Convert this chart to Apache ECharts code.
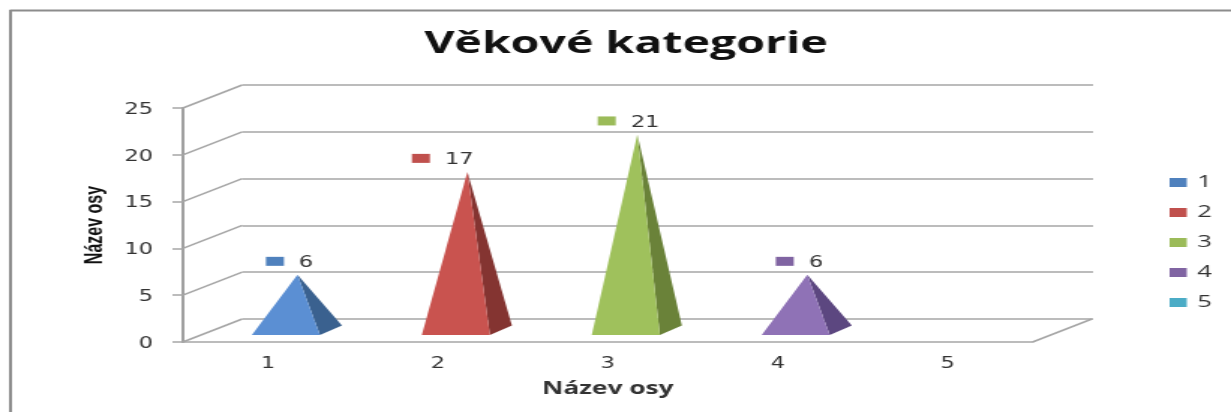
<!DOCTYPE html>
<html>
<head>
<meta charset="utf-8">
<script src="https://cdn.jsdelivr.net/npm/echarts@6/dist/echarts.min.js"></script>
<style>
html,body{margin:0;padding:0;background:#fff;overflow:hidden;width:1231px;height:412px}
#c{width:821px;height:412px;transform-origin:0 0;transform:scaleX(1.4994)}
</style>
</head>
<body>
<div id="c"></div>
<script>
const titleText = 'Věkové kategorie';
const axisNameX = 'Název osy';
const axisNameY = 'Název osy';
const categories = ['1','2','3','4','5'];
const seriesNames = ['1','2','3','4','5'];
const values = [6, 17, 21, 6, null];
const yTicks = [0, 5, 10, 15, 20, 25];
const legendColors = ['#4F81BD','#C0504D','#9BBB59','#8064A2','#4BACC6'];
const frontColors = ['#5B8FD3','#C9534F','#9FC15C','#8F72B6','#4BACC6'];
const sideColors = ['#3A618F','#843431','#6A8239','#5C4780','#2F7F95'];
const keyShift = [-1.3, -17.3, -6.7, -1.3, 0];

const FONT = '"Open Sans", sans-serif';
const NUMFONT = '"DejaVu Sans", sans-serif';
const GRID = '#a6a6a6';
const DEPTH_X = 39.5, DEPTH_Y = -23;
const shiftedText = {a: {fontFamily: NUMFONT, fontSize: 15, color: '#333', padding: [4,0,0,0]}};

function pyramid(i) {
  return function (params, api) {
    const cat = api.value(0), val = api.value(1);
    const c = api.coord([cat, 0])[0];
    const y0 = api.coord([cat, 0])[1];
    const yv = api.coord([cat, val])[1];
    const fl = [c - 10.7, y0 - 7], fr = [c + 34.7, y0 - 7];
    const rc = [c + 49.4, y0 - 16.5];
    const apex = [c + 19.7, yv - 11];
    const keyX = apex[0] - 19.7 + keyShift[i];
    return {
      type: 'group',
      children: [
        {type:'polygon', shape:{points:[fr, rc, apex]}, style:{fill:sideColors[i]}},
        {type:'polygon', shape:{points:[fl, fr, apex]}, style:{fill:frontColors[i]}},
        {type:'rect', shape:{x:keyX, y:yv-29, width:12, height:9}, style:{fill:legendColors[i]}},
        {type:'text', style:{text:String(val), x:keyX+22, y:yv-22.5, fontSize:15, fontFamily:NUMFONT, fill:'#333', align:'left', verticalAlign:'middle'}}
      ]
    };
  };
}

const pyramidSeries = seriesNames.map(function (name, i) {
  return {
    name: name,
    type: 'custom',
    xAxisIndex: 0, yAxisIndex: 0,
    z: 5,
    itemStyle: {color: legendColors[i]},
    encode: {x: 0, y: 1},
    renderItem: pyramid(i),
    data: values[i] == null ? [] : [[i, values[i]]]
  };
});

const wallSeries = {
  type: 'custom',
  xAxisIndex: 0, yAxisIndex: 0,
  z: 2, silent: true,
  encode: {x: 0, y: 1},
  renderItem: function (params, api) {
    const y = api.coord([0, api.value(1)])[1];
    const r = params.coordSys;
    const lines = [{type:'line', shape:{x1:r.x, y1:y, x2:r.x+DEPTH_X, y2:y+DEPTH_Y}, style:{stroke:GRID, lineWidth:1.5}}];
    if (api.value(1) === 0) {
      lines.push({type:'line', shape:{x1:r.x+r.width, y1:y, x2:r.x+r.width+DEPTH_X, y2:y+DEPTH_Y}, style:{stroke:GRID, lineWidth:1.5}});
    }
    return {type:'group', children:lines};
  },
  data: yTicks.map(function (t) { return [0, t]; })
};

const chart = echarts.init(document.getElementById('c'));
chart.setOption({
  animation: false,
  backgroundColor: '#fff',
  title: {
    text: titleText, left: 412.5, top: 24, textAlign: 'center',
    textStyle: {fontFamily: FONT, fontWeight: 'bold', fontSize: 31, color: '#111'}
  },
  legend: {
    data: seriesNames, orient: 'vertical', left: 775, top: 169,
    itemWidth: 11.5, itemHeight: 9, itemGap: 13, icon: 'rect',
    textStyle: {fontFamily: FONT, fontSize: 17, color: '#333', padding: [0,0,0,2]}
  },
  grid: [
    {left: 122, top: 108, width: 566.7, height: 234},
    {left: 161.5, top: 85, width: 567.5, height: 234}
  ],
  xAxis: [
    {
      type: 'category', gridIndex: 0, data: categories, boundaryGap: true,
      name: axisNameX, nameLocation: 'middle', nameGap: 38,
      nameTextStyle: {fontFamily: FONT, fontWeight: 'bold', fontSize: 17.5, color: '#333'},
      axisLine: {lineStyle: {color: GRID, width: 1.5}},
      axisTick: {show: false},
      axisLabel: {fontFamily: NUMFONT, fontSize: 15, color: '#333', margin: 15}
    },
    {
      type: 'category', gridIndex: 1, data: categories,
      axisLine: {show: false}, axisTick: {show: false}, axisLabel: {show: false}
    }
  ],
  yAxis: [
    {
      type: 'value', gridIndex: 0, min: 0, max: 25, interval: 5,
      name: axisNameY, nameLocation: 'middle', nameGap: 50,
      nameTextStyle: {fontFamily: '"Liberation Sans Narrow", "Liberation Sans", sans-serif', fontWeight: 'bold', fontSize: 16, color: '#111'},
      axisLine: {show: true, lineStyle: {color: '#a0a0a0', width: 2}},
      axisTick: {show: true, length: 7, lineStyle: {color: GRID, width: 1.5}},
      axisLabel: {margin: 20, formatter: '{a|{value}}', rich: shiftedText},
      splitLine: {show: false}
    },
    {
      type: 'value', gridIndex: 1, min: 0, max: 25, interval: 5,
      axisLine: {show: false}, axisTick: {show: false}, axisLabel: {show: false},
      splitLine: {show: true, lineStyle: {color: GRID, width: 1.5}}
    }
  ],
  graphic: [
    {type:'line', shape:{x1:6.5, y1:10.5, x2:821, y2:10.5}, style:{stroke:'#8c8c8c', lineWidth:2}},
    {type:'line', shape:{x1:7, y1:10, x2:7, y2:412}, style:{stroke:'#8c8c8c', lineWidth:2}}
  ],
  series: [wallSeries].concat(pyramidSeries)
});
</script>
</body>
</html>
